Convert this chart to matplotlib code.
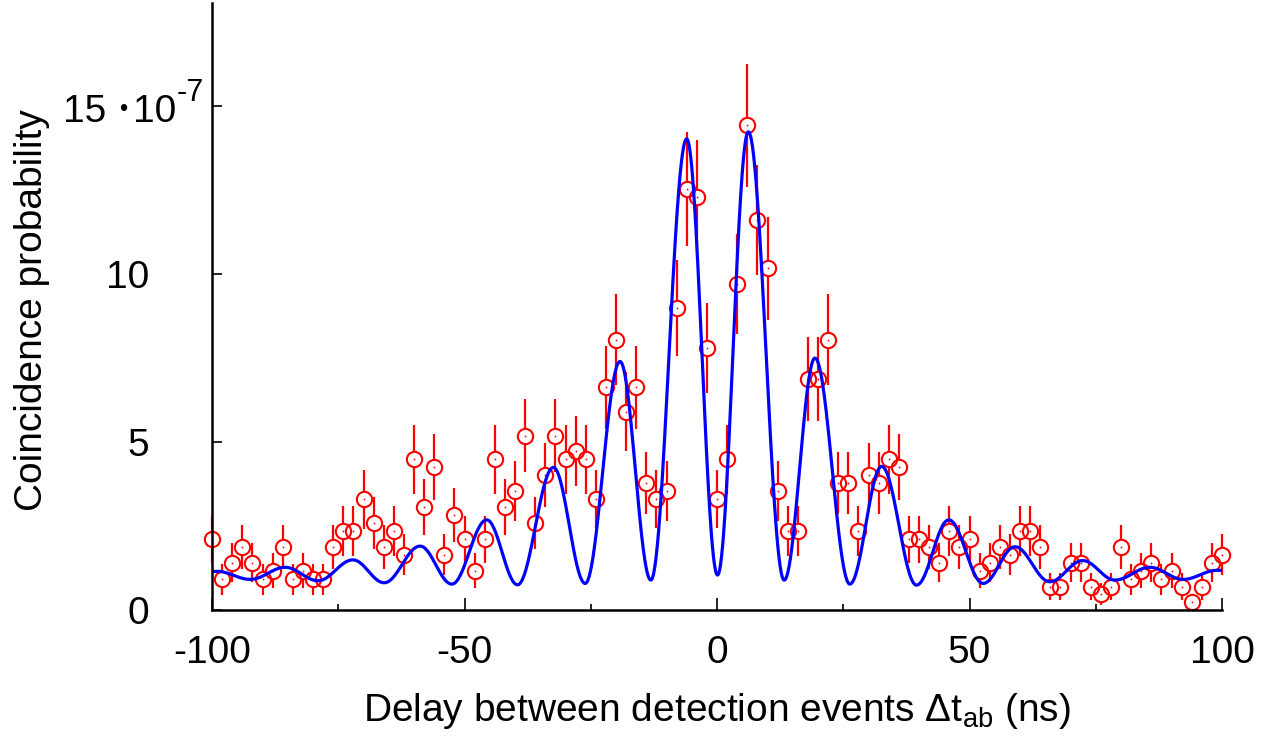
import numpy as np
import matplotlib
matplotlib.use("Agg")
import matplotlib.pyplot as plt

plt.rcParams["font.family"] = ["Liberation Sans", "DejaVu Sans"]
plt.rcParams["mathtext.fontset"] = "custom"
plt.rcParams["mathtext.rm"] = "Liberation Sans"
plt.rcParams["mathtext.it"] = "Liberation Sans:italic"
plt.rcParams["mathtext.bf"] = "Liberation Sans:bold"

# ---- data ----
delay_ns = list(range(-100, 101, 2))
coinc_prob = [
    2.11, 0.92, 1.41, 1.88, 1.41, 0.92, 1.17, 1.88, 0.92, 1.17,
    0.92, 0.92, 1.88, 2.35, 2.35, 3.29, 2.58, 1.88, 2.35, 1.64,
    4.48, 3.07, 4.25, 1.64, 2.83, 2.11, 1.17, 2.11, 4.48, 3.07,
    3.54, 5.18, 2.58, 4.01, 5.18, 4.48, 4.72, 4.48, 3.30, 6.62,
    8.04, 5.90, 6.62, 3.77, 3.30, 3.54, 8.98, 12.52, 12.29, 7.79,
    3.30, 4.48, 9.69, 14.41, 11.59, 10.16, 3.54, 2.35, 2.35, 6.87,
    6.87, 8.04, 3.77, 3.77, 2.35, 4.01, 3.77, 4.48, 4.25, 2.11,
    2.11, 1.88, 1.41, 2.35, 1.88, 2.11, 1.17, 1.41, 1.88, 1.64,
    2.35, 2.35, 1.88, 0.69, 0.69, 1.41, 1.41, 0.69, 0.47, 0.69,
    1.88, 0.92, 1.17, 1.41, 0.92, 1.17, 0.69, 0.23, 0.69, 1.41,
    1.64,
]
coinc_err = [
    0.70, 0.46, 0.57, 0.66, 0.57, 0.46, 0.52, 0.66, 0.46, 0.52,
    0.46, 0.46, 0.66, 0.74, 0.74, 0.87, 0.77, 0.66, 0.74, 0.61,
    1.02, 0.84, 0.99, 0.61, 0.81, 0.70, 0.52, 0.70, 1.02, 0.84,
    0.90, 1.09, 0.77, 0.96, 1.09, 1.02, 1.04, 1.02, 0.87, 1.24,
    1.36, 1.17, 1.24, 0.93, 0.87, 0.90, 1.44, 1.70, 1.68, 1.34,
    0.87, 1.02, 1.49, 1.82, 1.63, 1.53, 0.90, 0.74, 0.74, 1.26,
    1.26, 1.36, 0.93, 0.93, 0.74, 0.96, 0.93, 1.02, 0.99, 0.70,
    0.70, 0.66, 0.57, 0.74, 0.66, 0.70, 0.52, 0.57, 0.66, 0.61,
    0.74, 0.74, 0.66, 0.40, 0.40, 0.57, 0.57, 0.40, 0.33, 0.40,
    0.66, 0.46, 0.52, 0.57, 0.46, 0.52, 0.40, 0.23, 0.40, 0.57,
    0.61,
]
# extrema of the fitted curve (position in ns, value)
fit_ext_x = [-100, -99, -92.4, -85.5, -79.0, -72.1, -65.9, -58.8, -52.5, -45.6,
             -39.5, -32.4, -26.1, -19.2, -13.1, -6.0, 0.1, 6.2, 13.3, 19.4,
             26.3, 32.6, 39.5, 45.9, 52.7, 59.0, 65.9, 72.4, 78.8, 85.7,
             92.3, 99.0, 100]
fit_ext_y = [1.14, 1.15, 0.91, 1.27, 0.87, 1.49, 0.81, 1.90, 0.77, 2.68,
             0.75, 4.24, 0.79, 7.39, 0.89, 14.01, 1.04, 14.22, 0.89, 7.49,
             0.77, 4.27, 0.74, 2.68, 0.79, 1.88, 0.84, 1.47, 0.89, 1.27,
             0.91, 1.18, 1.18]

x_ticks = [-100, -50, 0, 50, 100]
x_minor = [-75, -25, 25, 75]
y_ticks = [0, 5, 10, 15]
y_ticklabels = ["0", "5", "10", ""]

# ---- figure ----
W, H = 1276, 738
fig = plt.figure(figsize=(W / 100, H / 100), dpi=100)
ax = fig.add_axes([212 / W, 1 - 610 / H, 1010 / W, 607 / H])
ax.set_xlim(-100, 100)
ax.set_ylim(0, 18.05)


def fx(px):
    return px / W


def fy(py):
    return 1 - py / H


x = np.array(delay_ns, float)
y = np.array(coinc_prob)
e = np.array(coinc_err)

# circle radius in data units (so the bars stop at the circle edge)
ax_h_px = 607.0
r_data = 7.5 * (18.05 / ax_h_px)
red = "#ff0000"
for xi, yi, ei in zip(x, y, e):
    if ei > r_data:
        ax.plot([xi, xi], [yi + r_data, yi + ei], color=red, lw=1.6,
                clip_on=False, zorder=3, solid_capstyle="butt")
        ax.plot([xi, xi], [yi - ei, yi - r_data], color=red, lw=1.6,
                clip_on=False, zorder=3, solid_capstyle="butt")
ax.plot(x, y, "o", ms=11, mfc="none", mec=red, mew=1.5, clip_on=False, zorder=3)
ax.plot(x, y, "o", ms=1.3, mfc=red, mec=red, mew=0, clip_on=False, zorder=3)

# fitted curve drawn through its read extrema with cosine-shaped lobes
xs, ys = [], []
for i in range(len(fit_ext_x) - 1):
    s = np.linspace(0, 1, 60, endpoint=False)
    x0, x1 = fit_ext_x[i], fit_ext_x[i + 1]
    y0, y1 = fit_ext_y[i], fit_ext_y[i + 1]
    xs.append(x0 + (x1 - x0) * s)
    ys.append(y0 + (y1 - y0) * (1 - np.cos(np.pi * s)) / 2)
xs.append([fit_ext_x[-1]])
ys.append([fit_ext_y[-1]])
ax.plot(np.concatenate(xs), np.concatenate(ys), color="#0000ff", lw=2.3, zorder=5)

# spines & ticks
for sp in ["top", "right"]:
    ax.spines[sp].set_visible(False)
for sp in ["left", "bottom"]:
    ax.spines[sp].set_linewidth(1.8)
    ax.spines[sp].set_zorder(6)

ax.set_xticks(x_ticks)
ax.set_xticks(x_minor, minor=True)
ax.set_xticklabels([str(t) for t in x_ticks])
ax.set_yticks(y_ticks)
ax.set_yticklabels(y_ticklabels)
ax.tick_params(axis="x", which="major", direction="in", length=9, width=1.2,
               labelsize=28, pad=18)
ax.tick_params(axis="x", which="minor", direction="in", length=4.5, width=1.2)
ax.tick_params(axis="y", which="major", direction="in", length=7, width=1.2,
               labelsize=28, pad=45)

# "15 ·10^-7" label for the top tick
fig.text(fx(106), fy(122), "15", ha="right", va="baseline", fontsize=28)
fig.text(fx(123), fy(110), "\u2022", ha="center", va="center", fontsize=17)
fig.text(fx(133), fy(122), "10", ha="left", va="baseline", fontsize=28)
fig.text(fx(177), fy(101), "-7", ha="left", va="baseline", fontsize=22)

fig.text(fx(717), fy(721), "Delay between detection events \u0394t$_{\\mathrm{ab}}$ (ns)",
         ha="center", va="baseline", fontsize=28)
fig.text(fx(32), fy(310), "Coincidence probability", rotation=90,
         ha="center", va="center", fontsize=28)

fig.savefig("out.png", dpi=100)
